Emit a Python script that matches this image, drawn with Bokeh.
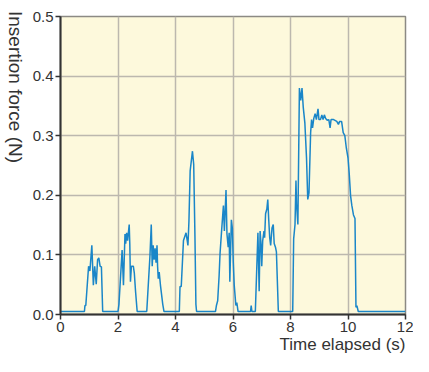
from bokeh.plotting import figure
from bokeh.models import Range1d, FixedTicker, PrintfTickFormatter, Title, Div
from bokeh.layouts import row
from bokeh.embed import file_html
from bokeh.resources import INLINE

# Time elapsed (s)
time_s = [
    0.0, 0.833, 0.85, 0.88, 0.977, 1.023, 1.09, 1.143, 1.19, 1.243, 1.29, 1.333, 1.377, 1.423, 1.467,
    2.0, 2.033, 2.143, 2.19, 2.243, 2.267, 2.3, 2.333, 2.39, 2.41, 2.433, 2.467, 2.533, 2.567, 2.61, 2.667,
    3.0, 3.11, 3.157, 3.19, 3.223, 3.257, 3.29, 3.323, 3.357, 3.377, 3.4, 3.433, 3.477, 3.557, 3.6,
    4.133, 4.157, 4.2, 4.277, 4.367, 4.433, 4.467, 4.51, 4.59, 4.633, 4.677, 4.71, 4.733,
    5.39, 5.423, 5.467, 5.517, 5.55, 5.61, 5.667, 5.7, 5.757, 5.79, 5.833, 5.867, 5.89, 5.943, 5.977,
    6.01, 6.043, 6.1, 6.133, 6.177, 6.61, 6.633, 6.657,
    6.777, 6.867, 6.91, 6.943, 6.977, 7.0, 7.033, 7.077, 7.1, 7.133, 7.177, 7.21, 7.243, 7.277, 7.31,
    7.357, 7.4, 7.433, 7.477, 7.51, 7.577,
    8.077, 8.11, 8.157, 8.19, 8.21, 8.257, 8.31, 8.357, 8.4, 8.443, 8.5, 8.557, 8.6, 8.643, 8.7, 8.733,
    8.767, 8.81, 8.857, 8.9, 8.957, 8.99, 9.043, 9.09, 9.133, 9.177, 9.223, 9.277, 9.333, 9.377, 9.41,
    9.5, 9.61, 9.667, 9.71, 9.777, 9.833, 9.89, 9.943, 10.0, 10.043, 10.09, 10.133, 10.19, 10.243,
    10.277, 10.31, 10.357, 12.0,
]

# Insertion force (N)
force_n = [
    0.005, 0.005, 0.015, 0.015, 0.081, 0.073, 0.116, 0.049, 0.081, 0.051, 0.092, 0.095, 0.081, 0.080, 0.005,
    0.005, 0.017, 0.108, 0.049, 0.135, 0.119, 0.137, 0.124, 0.151, 0.119, 0.055, 0.081, 0.081, 0.070, 0.039, 0.005,
    0.005, 0.097, 0.151, 0.081, 0.116, 0.092, 0.111, 0.087, 0.116, 0.081, 0.060, 0.071, 0.049, 0.017, 0.005,
    0.005, 0.047, 0.047, 0.124, 0.137, 0.116, 0.156, 0.241, 0.274, 0.252, 0.129, 0.017, 0.005,
    0.005, 0.015, 0.023, 0.065, 0.103, 0.145, 0.183, 0.140, 0.209, 0.135, 0.113, 0.137, 0.055, 0.159, 0.145,
    0.087, 0.049, 0.015, 0.020, 0.005, 0.005, 0.015, 0.005,
    0.005, 0.137, 0.039, 0.140, 0.116, 0.081, 0.124, 0.140, 0.129, 0.169, 0.177, 0.193, 0.159, 0.129, 0.116,
    0.145, 0.151, 0.119, 0.113, 0.105, 0.005,
    0.005, 0.127, 0.151, 0.225, 0.185, 0.151, 0.380, 0.359, 0.380, 0.348, 0.321, 0.263, 0.193, 0.204, 0.305, 0.327,
    0.313, 0.329, 0.337, 0.327, 0.345, 0.327, 0.327, 0.335, 0.327, 0.335, 0.329, 0.326, 0.327, 0.313, 0.327,
    0.327, 0.324, 0.319, 0.324, 0.324, 0.305, 0.300, 0.279, 0.263, 0.236, 0.199, 0.183, 0.167, 0.161,
    0.012, 0.015, 0.005, 0.005,
]

x_ticks = [0, 2, 4, 6, 8, 10, 12]
y_ticks = [0.0, 0.1, 0.2, 0.3, 0.4, 0.5]
x_label = "Time elapsed (s)"
y_label = "Insertion force (N)"

FONT = "Liberation Sans"
TXT = "#333333"

p = figure(width=387, height=356, output_backend="svg", toolbar_location=None,
           x_range=Range1d(0, 12), y_range=Range1d(0, 0.5),
           min_border_left=34, min_border_right=8, min_border_top=16, min_border_bottom=42)

p.background_fill_color = "#fdf9dc"
p.border_fill_color = "white"
p.outline_line_color = "#8c8a84"
p.outline_line_width = 1.5

p.line(time_s, force_n, line_color="#1a86c8", line_width=1.5)

for ax in (p.xaxis[0], p.yaxis[0]):
    ax.axis_line_color = "#333333"
    ax.axis_line_width = 2
    ax.major_tick_line_color = "#333333"
    ax.major_tick_line_width = 1.5
    ax.major_tick_out = 5
    ax.major_tick_in = 0
    ax.minor_tick_line_color = None
    ax.major_label_text_font = FONT
    ax.major_label_text_font_size = "15px"
    ax.major_label_text_color = TXT
    ax.major_label_standoff = 2

p.xaxis.ticker = FixedTicker(ticks=x_ticks)
p.yaxis.ticker = FixedTicker(ticks=y_ticks)
p.yaxis.formatter = PrintfTickFormatter(format="%.1f")
p.xaxis.formatter = PrintfTickFormatter(format="%d")

p.add_layout(Title(text=x_label, align="right", text_font=FONT, text_font_size="17px",
                   text_font_style="normal", text_color=TXT, standoff=-4, offset=0), "below")

p.xgrid.grid_line_color = "#bcb8ae"
p.ygrid.grid_line_color = "#bcb8ae"
p.xgrid.grid_line_width = 1.5
p.ygrid.grid_line_width = 1.5

ylab = Div(width=26, height=356, margin=0,
           text=('<div style="writing-mode: vertical-rl; white-space: nowrap; '
                 'font-family: \'Liberation Sans\'; font-size: 19px; line-height: 22px; '
                 'color: #333333; margin-left: 4px; margin-top: 11px;">' + y_label + '</div>'))

layout = row(ylab, p, spacing=0)

open("out.html", "w").write(file_html(layout, INLINE))
